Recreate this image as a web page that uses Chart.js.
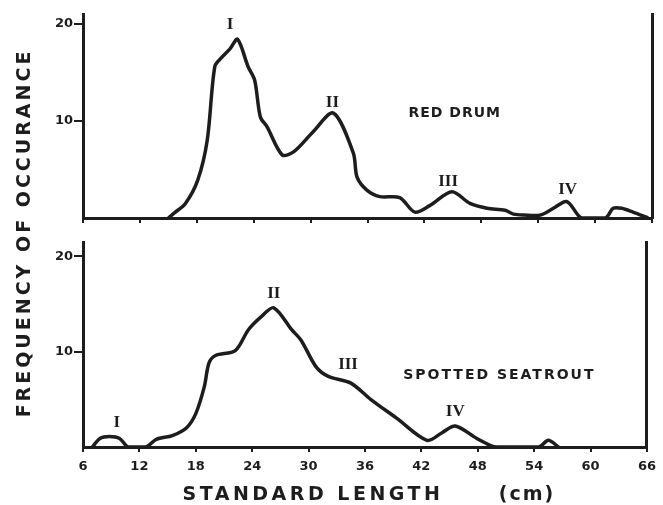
<!DOCTYPE html>
<html lang="en">
<head>
<meta charset="UTF-8">
<title>Frequency of occurance by standard length</title>
<script src="https://cdn.jsdelivr.net/npm/chart.js"></script>
<style>
    body { margin: 0; background: #fff; }
    .wrap { position: relative; width: 663px; height: 505px; }
    .wrap canvas { position: absolute; left: 0; top: 0; }
</style>
</head>
<body>
<div class="wrap">
    <canvas id="redDrum" width="663" height="505"></canvas>
    <canvas id="seatrout" width="663" height="505"></canvas>
</div>
<script>
// shared axis ticks
const lengthTicks = [6, 12, 18, 24, 30, 36, 42, 48, 54, 60, 66];
const freqTicks = [10, 20];

// red drum (upper panel)
const redDrumLength = [15.0, 15.6, 16.8, 18.1, 19.1, 19.9, 20.6, 21.5, 22.3, 23.4, 24.1, 24.7, 25.4, 27.0, 28.2, 30.2, 32.4,
    34.5, 34.9, 35.9, 37.3, 39.4, 41.0, 42.6, 44.9, 46.8, 48.6, 50.5, 51.4, 52.5, 54.2, 55.6, 57.0, 58.2, 58.6,
    61.1, 61.9, 62.8, 64.0, 65.6];
const redDrumFreq = [0, 0.5, 1.5, 3.9, 8.0, 15.6, 16.5, 17.4, 18.4, 15.6, 14.2, 10.4, 9.4, 6.5, 6.8, 8.8, 10.8,
    6.7, 4.2, 2.9, 2.2, 2.1, 0.6, 1.3, 2.7, 1.5, 1.0, 0.8, 0.4, 0.3, 0.3, 1.0, 1.7, 0.3, 0,
    0, 1.0, 1.0, 0.6, 0];
const redDrumPeaks = ['I', 'II', 'III', 'IV'];
const redDrumPeakX = [21.5, 32.3, 44.5, 57.1];
const redDrumPeakY = [19.9, 11.9, 3.7, 2.9];

// spotted seatrout (lower panel)
const seatroutLength = [7.0, 7.8, 8.8, 9.9, 10.8, 12.7, 13.8, 15.5, 17.0, 18.0, 18.9, 19.4, 20.1, 22.2, 23.6, 25.0,
    26.3, 28.2, 29.2, 30.8, 32.1, 34.5, 36.6, 39.4, 42.6, 44.2, 45.6, 47.9, 49.5, 50.0, 54.5, 55.5, 56.6];
const seatroutFreq = [0, 0.9, 1.1, 0.9, 0, 0, 0.8, 1.2, 2.0, 3.5, 6.3, 8.8, 9.6, 10.1, 12.3, 13.7,
    14.6, 12.3, 11.2, 8.4, 7.4, 6.7, 5.0, 3.0, 0.7, 1.5, 2.2, 0.9, 0.1, 0, 0, 0.7, 0];
const seatroutPeaks = ['I', 'II', 'III', 'IV'];
const seatroutPeakX = [9.6, 26.3, 34.2, 45.6];
const seatroutPeakY = [2.6, 16.1, 8.6, 3.7];

const ink = '#1d1d1d';
const sans = '"DejaVu Sans", sans-serif';
const serif = '"Liberation Serif", "DejaVu Serif", serif';

// text drawn at data positions + free axis titles
const panelText = {
    id: 'panelText',
    afterDraw(chart, args, opts) {
        const ctx = chart.ctx;
        const x = chart.scales.x, y = chart.scales.y;
        ctx.save();
        ctx.fillStyle = ink;
        ctx.textAlign = 'center';
        ctx.textBaseline = 'middle';
        (opts.peaks || []).forEach(p => {
            ctx.font = 'bold 17px ' + serif;
            ctx.letterSpacing = '0px';
            ctx.fillText(p.text, x.getPixelForValue(p.x), y.getPixelForValue(p.y));
        });
        if (opts.name) {
            ctx.font = 'bold 14px ' + sans;
            ctx.letterSpacing = opts.name.spacing;
            ctx.fillText(opts.name.text, x.getPixelForValue(opts.name.x), y.getPixelForValue(opts.name.y));
        }
        if (opts.yTitle) {
            ctx.save();
            ctx.translate(25, 233);
            ctx.rotate(-Math.PI / 2);
            ctx.font = 'bold 19px ' + sans;
            ctx.letterSpacing = '3px';
            ctx.fillText(opts.yTitle, 0, 0);
            ctx.restore();
        }
        if (opts.xTitle) {
            ctx.font = 'bold 19px ' + sans;
            ctx.letterSpacing = '3.5px';
            ctx.fillText(opts.xTitle, 313, 495);
            ctx.letterSpacing = '2px';
            ctx.fillText(opts.xUnit, 527, 495);
        }
        ctx.restore();
    }
};

function panel(id, lengths, freqs, cfg) {
    return new Chart(document.getElementById(id), {
        type: 'line',
        data: {
            datasets: [{
                data: lengths.map((v, i) => ({ x: v, y: freqs[i] })),
                borderColor: ink,
                borderWidth: 3.5,
                pointRadius: 0,
                tension: 0.3,
                fill: false
            }]
        },
        options: {
            responsive: false,
            animation: false,
            events: [],
            layout: { padding: { top: cfg.top, right: 11, left: 0, bottom: 0 } },
            plugins: {
                legend: { display: false },
                tooltip: { enabled: false },
                panelText: cfg.text
            },
            scales: {
                x: {
                    type: 'linear',
                    min: 6,
                    max: 66,
                    afterBuildTicks: s => { s.ticks = lengthTicks.map(v => ({ value: v })); },
                    afterFit: s => { s.height = cfg.xHeight; },
                    border: { color: ink, width: 3 },
                    grid: { drawOnChartArea: false, color: ink, lineWidth: 2, tickLength: 5 },
                    ticks: {
                        display: cfg.showX,
                        color: ink,
                        padding: 7,
                        maxRotation: 0,
                        font: { family: sans, weight: 'bold', size: 13 }
                    }
                },
                y: {
                    min: 0,
                    max: cfg.yMax,
                    afterBuildTicks: s => { s.ticks = freqTicks.map(v => ({ value: v })); },
                    afterFit: s => { s.width = 83; },
                    border: { color: ink, width: 3 },
                    grid: { drawOnChartArea: false, color: ink, lineWidth: 2, tickLength: 9 },
                    ticks: {
                        color: ink,
                        padding: 1,
                        font: { family: sans, weight: 'bold', size: 13 }
                    }
                },
                yr: {
                    display: true,
                    position: 'right',
                    min: 0,
                    max: cfg.yMax,
                    afterFit: s => { s.width = 0; },
                    border: { color: ink, width: 3 },
                    grid: { display: false },
                    ticks: { display: false }
                }
            }
        },
        plugins: [panelText]
    });
}

panel('redDrum', redDrumLength, redDrumFreq, {
    top: 14, xHeight: 287, yMax: 21, showX: false,
    text: {
        peaks: redDrumPeaks.map((t, i) => ({ text: t, x: redDrumPeakX[i], y: redDrumPeakY[i] })),
        name: { text: 'RED DRUM', x: 45.2, y: 10.8, spacing: '1px' },
        yTitle: 'FREQUENCY OF OCCURANCE'
    }
});

panel('seatrout', seatroutLength, seatroutFreq, {
    top: 242, xHeight: 58, yMax: 21.5, showX: true,
    text: {
        peaks: seatroutPeaks.map((t, i) => ({ text: t, x: seatroutPeakX[i], y: seatroutPeakY[i] })),
        name: { text: 'SPOTTED SEATROUT', x: 50.3, y: 7.5, spacing: '2px' },
        xTitle: 'STANDARD LENGTH',
        xUnit: '(cm)'
    }
});
</script>
</body>
</html>
